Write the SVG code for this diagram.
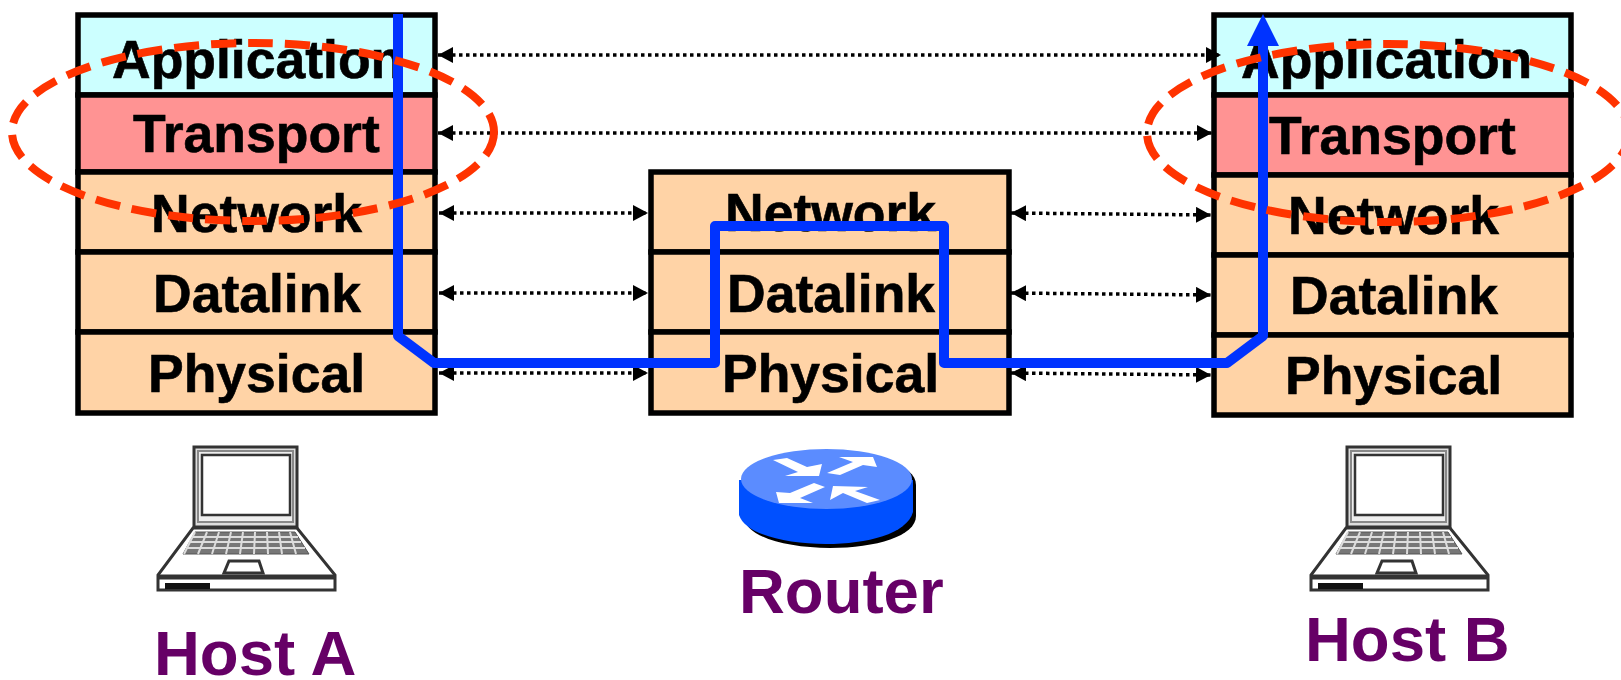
<svg xmlns="http://www.w3.org/2000/svg" width="1621" height="680" viewBox="0 0 1621 680">
<style>
text{font-family:"Liberation Sans",Arial,sans-serif;font-weight:700}
.l{font-size:53.5px;fill:#000;stroke:#000;stroke-width:.6}
.h{font-size:63.5px;fill:#660066}
.b{stroke:#000;stroke-width:5.5}
.app{fill:#ccffff}.tr{fill:#ff9393}.pe{fill:#ffd3a6}
.d{fill:none;stroke:#000;stroke-width:3.5;stroke-dasharray:3.5 3.5;marker-start:url(#a);marker-end:url(#a)}
.e{fill:none;stroke:#ff3300;stroke-width:8;stroke-dasharray:25 12}
</style>
<defs>
<marker id="a" markerUnits="userSpaceOnUse" markerWidth="16" markerHeight="18" refX="15" refY="8" orient="auto-start-reverse"><path d="M0 0L15 8L0 16Z" fill="#000"/></marker>
<g id="laptop">
<rect x="194" y="447" width="103" height="80" fill="#ddd" stroke="#333" stroke-width="3"/>
<rect x="198" y="451" width="95" height="71" fill="#eee" stroke="#888" stroke-width="2"/>
<rect x="202" y="455" width="88" height="60" fill="#fff" stroke="#333" stroke-width="2.5"/>
<path d="M193 528H297L335 575V590H158V575Z" fill="#fff" stroke="#333" stroke-width="3"/>
<path d="M158 577H335" stroke="#333" stroke-width="5"/>
<path d="M195 532H295L309 554H183Z" fill="#777" stroke="#555" stroke-width="1"/>
<path d="M192 537H298M189 542H301M186 548H305M195 532L184 554M207 532L198 554M219 532L212 554M231 532L226 554M243 532L240 554M255 532L254 554M267 532L268 554M279 532L282 554M290 532L296 554" stroke="#ddd" stroke-width="2" fill="none"/>
<path d="M229 561H259L263 573H224Z" fill="#fff" stroke="#333" stroke-width="3"/>
<rect x="165" y="583" width="45" height="6" fill="#111"/>
</g>
</defs>
<g id="hostA-stack">
<rect class="b app" x="78" y="15" width="357" height="80"/>
<rect class="b tr" x="78" y="95" width="357" height="77"/>
<rect class="b pe" x="78" y="172" width="357" height="80"/>
<rect class="b pe" x="78" y="252" width="357" height="80"/>
<rect class="b pe" x="78" y="332" width="357" height="81"/>
<text class="l" x="112" y="78">Application</text>
<text class="l" x="133" y="152">Transport</text>
<text class="l" x="151" y="232">Network</text>
<text class="l" x="153" y="312">Datalink</text>
<text class="l" x="148" y="392">Physical</text>
</g>
<g id="router-stack">
<rect class="b pe" x="651" y="172" width="358" height="80"/>
<rect class="b pe" x="651" y="252" width="358" height="80"/>
<rect class="b pe" x="651" y="332" width="358" height="81"/>
<text class="l" x="725" y="231">Network</text>
<text class="l" x="727" y="312">Datalink</text>
<text class="l" x="722" y="392">Physical</text>
</g>
<g id="hostB-stack">
<rect class="b app" x="1214" y="15" width="357" height="80"/>
<rect class="b tr" x="1214" y="95" width="357" height="80"/>
<rect class="b pe" x="1214" y="175" width="357" height="80"/>
<rect class="b pe" x="1214" y="255" width="357" height="80"/>
<rect class="b pe" x="1214" y="335" width="357" height="80"/>
<text class="l" x="1241" y="78">Application</text>
<text class="l" x="1269" y="154">Transport</text>
<text class="l" x="1288" y="234">Network</text>
<text class="l" x="1290" y="314">Datalink</text>
<text class="l" x="1285" y="394">Physical</text>
</g>
<g id="connectors">
<path class="d" d="M438 55H1221"/>
<path class="d" d="M438 133H1212"/>
<path class="d" d="M439 213H648"/>
<path class="d" d="M439 293H648"/>
<path class="d" d="M439 373H648"/>
<path class="d" d="M1011 213L1211 215"/>
<path class="d" d="M1011 293L1211 295"/>
<path class="d" d="M1011 373L1211 375"/>
<path d="M398 14V336L434 363H715V226H944V363H1227L1263 336V40" fill="none" stroke="#0033ff" stroke-width="10" stroke-linejoin="round"/>
<path d="M1263 14L1279 46H1247Z" fill="#0033ff"/>
</g>
<g id="ellipses">
<ellipse class="e" cx="253" cy="132" rx="241" ry="89"/>
<ellipse class="e" cx="1388" cy="133" rx="241" ry="89"/>
</g>
<g id="hostA"><use href="#laptop"/><text class="h" x="154" y="675">Host A</text></g>
<g id="hostB"><use href="#laptop" x="1153"/><text class="h" x="1305" y="661">Host B</text></g>
<g id="router">
<path d="M744 485V516C744 536 784 548 830 548S916 536 916 516V485C916 465 876 452 830 452S744 465 744 485Z" fill="#000"/>
<path d="M739 480V515C745 534 785 544 826 544S907 534 913 512V480Z" fill="#0050ff"/>
<ellipse cx="826.500" cy="479" rx="85.500" ry="30" fill="#5b8cff"/>
<g fill="#fff">
<path d="M773 460L787 458L807 467L822 464L819 476L785 476L798 472Z"/>
<path d="M827 473L840 475L863 465L877 467L873 457L839 457L853 462Z"/>
<path d="M825 487L814 483L790 493L776 492L779 503L813 503L800 498Z"/>
<path d="M830 500L833 486L868 487L855 491L880 500L867 503L843 493Z"/>
</g>
<text class="h" x="739" y="613">Router</text>
</g>
</svg>
